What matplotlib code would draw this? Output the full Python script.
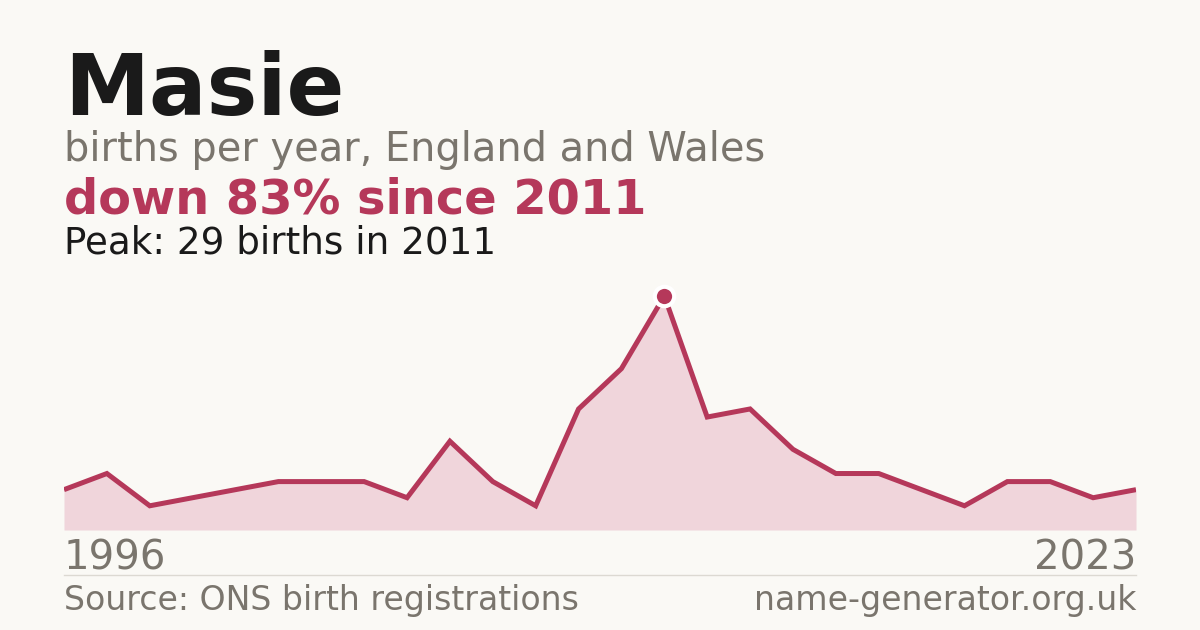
import matplotlib
matplotlib.use("Agg")
import matplotlib.pyplot as plt

plt.rcParams["font.family"] = ["DejaVu Sans"]

# births per year (years with suppressed counts are absent, points are evenly spaced)
births = [5, 7, 3, 4, 5, 6, 6, 6, 4, 11, 6, 3, 15, 20, 29,
          14, 15, 10, 7, 7, 5, 3, 6, 6, 4, 5]
first_year = "1996"
last_year = "2023"
peak_idx = births.index(max(births))

BG = "#faf9f5"
RED = "#b5385a"
FILL = "#f0d5db"
GREY = "#7a756d"
DARK = "#1a1a1a"

W, H = 1200, 630
fig = plt.figure(figsize=(12, 6.3), dpi=100)
fig.patch.set_facecolor(BG)


def fx(px):
    return px / W


def fy(py):
    return 1 - py / H


ax = fig.add_axes([fx(64), fy(530), fx(1136) - fx(64), fy(280) - fy(530)])
ax.set_facecolor(BG)
xs = list(range(len(births)))
ax.fill_between(xs, births, 0, color=FILL, lw=0)
ax.plot(xs, births, color=RED, lw=3.6, solid_joinstyle="miter", solid_capstyle="butt")
ax.plot([peak_idx], [births[peak_idx]], "o", ms=14, color=RED,
        markeredgecolor="white", markeredgewidth=3, zorder=5)
ax.set_xlim(0, len(births) - 1)
ax.set_ylim(0, max(births) * 250 / 234)
ax.axis("off")

# header text
fig.text(fx(64), fy(115), "Masie", fontsize=61.5, fontweight="bold", color=DARK, va="baseline")
fig.text(fx(64), fy(161), "births per year, England and Wales", fontsize=28.7,
         color=GREY, va="baseline")
drop = round((max(births) - births[-1]) / max(births) * 100)
fig.text(fx(64), fy(214), f"down {drop}% since 2011", fontsize=34.5,
         fontweight="bold", color=RED, va="baseline")
fig.text(fx(64), fy(254), f"Peak: {max(births)} births in 2011", fontsize=26.8,
         color=DARK, va="baseline")

# year labels and footer
fig.text(fx(64), fy(570), first_year, fontsize=29, color=GREY, va="baseline")
fig.text(fx(1136), fy(570), last_year, fontsize=29, color=GREY, va="baseline", ha="right")
fig.add_artist(plt.Line2D([fx(64), fx(1136)], [fy(574.5), fy(574.5)],
                          color="#dcd9d2", lw=1))
fig.text(fx(64), fy(610), "Source: ONS birth registrations", fontsize=23.9,
         color=GREY, va="baseline")
fig.text(fx(1136), fy(610), "name-generator.org.uk", fontsize=23.9,
         color=GREY, va="baseline", ha="right")

fig.savefig("out.png", dpi=100, facecolor=BG)
